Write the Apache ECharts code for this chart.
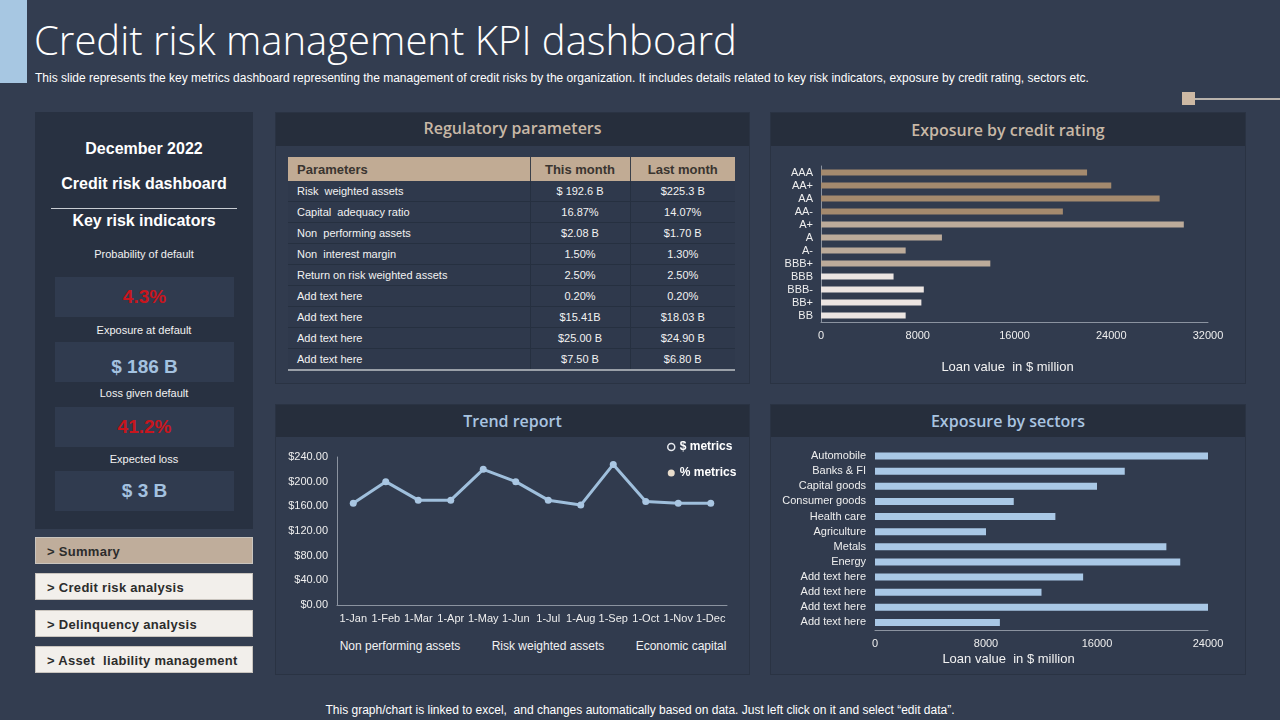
<!DOCTYPE html>
<html><head><meta charset="utf-8">
<script src="https://cdn.jsdelivr.net/npm/echarts@6/dist/echarts.min.js"></script>
<style>
body{margin:0;width:1280px;height:720px;background:#333d50;overflow:hidden;font-family:"Liberation Sans",Arial,sans-serif;color:#fff;position:relative}
.abs{position:absolute}
.panel{position:absolute;background:#313b4e;border:1px solid #2a3343;box-sizing:border-box}
.phead{position:absolute;left:0;top:0;right:0;background:#262e3c;text-align:center;font-family:"Open Sans",sans-serif;font-weight:600;font-size:16px}
.lbl{position:absolute;left:0;width:218px;text-align:center;font-size:11px;color:#f2f2f2}
.kbox{position:absolute;left:20px;width:179px;height:40px;background:#303b4f;text-align:center;line-height:40px;font-weight:bold;font-size:19px;box-sizing:border-box}
.btn{position:absolute;left:35px;width:218px;height:27px;box-sizing:border-box;font-weight:bold;font-size:13px;color:#2c2c2c;line-height:27px;padding-left:11px;letter-spacing:0.3px;border:1px solid #c9c4be;white-space:pre}
table{border-collapse:collapse;position:absolute;left:288px;top:157px;width:447px;font-size:11px}
th{background:#c1ab94;color:#3a3530;font-size:13px;height:24px;padding:0;border-left:1px solid #3a3f48}
td{height:20px;padding:0;border-bottom:1px solid #263040;border-left:1px solid #263040;color:#f2f2f2;text-align:center;background:#2f394c}
td.p{text-align:left;padding-left:9px;border-left:none;white-space:pre}
th.p{text-align:left;padding-left:9px;border-left:none}
tr:last-child td{border-bottom:2px solid #9aa0a8}
#chart{position:absolute;left:0;top:0;width:1280px;height:720px;z-index:5}
</style></head><body>
<div class="abs" style="left:0;top:0;width:27px;height:83px;background:#a7c7e2"></div>
<div class="abs" id="title" style="left:34px;top:12px;font-family:'Open Sans',sans-serif;font-weight:300;font-size:40px;white-space:nowrap;color:#fff">Credit risk management KPI dashboard</div>
<div class="abs" id="sub" style="left:35px;top:71px;font-size:12px;letter-spacing:0px;white-space:nowrap;color:#fff">This slide represents the key metrics dashboard representing the management of credit risks by the organization. It includes details related to key risk indicators, exposure by credit rating, sectors etc.</div>
<div class="abs" style="left:1182px;top:92px;width:13px;height:13px;background:#cdb9a4"></div>
<div class="abs" style="left:1195px;top:98px;width:85px;height:2px;background:#b9b3ac"></div>

<div class="abs" id="left" style="left:35px;top:112px;width:218px;height:417px;background:#283141"></div>
<div id="menu"></div>

<div class="panel" style="left:275px;top:112px;width:475px;height:272px"><div class="phead" style="height:33px;line-height:31px;color:#c8b8a6">Regulatory parameters</div></div>
<div class="panel" style="left:770px;top:112px;width:476px;height:272px"><div class="phead" style="height:33px;line-height:34px;color:#c8b8a6">Exposure by credit rating</div></div>
<div class="panel" style="left:275px;top:404px;width:475px;height:271px"><div class="phead" style="height:32px;line-height:32px;color:#a9c4e0">Trend report</div></div>
<div class="panel" style="left:770px;top:404px;width:476px;height:271px"><div class="phead" style="height:32px;line-height:32px;color:#a9c4e0">Exposure by sectors</div></div>
<div id="tbl"></div>
<div id="trendNotes"></div>
<div class="abs" style="left:0;top:703px;width:1280px;text-align:center;font-size:12px;letter-spacing:0px;color:#fff;white-space:pre">This graph/chart is linked to excel,  and changes automatically based on data. Just left click on it and select “edit data”.</div>
<div id="chart"></div>
<script>
// ---------- data ----------
var kpiLabels = ['Probability of default', 'Exposure at default', 'Loss given default', 'Expected loss'];
var kpiValues = ['4.3%', '$ 186 B', '41.2%', '$ 3 B'];
var menuItems = ['> Summary', '> Credit risk analysis', '> Delinquency analysis', '> Asset  liability management'];

var tableHeaders = ['Parameters', 'This month', 'Last month'];
var paramNames = ['Risk  weighted assets', 'Capital  adequacy ratio', 'Non  performing assets', 'Non  interest margin', 'Return on risk weighted assets', 'Add text here', 'Add text here', 'Add text here', 'Add text here'];
var thisMonth = ['$ 192.6 B', '16.87%', '$2.08 B', '1.50%', '2.50%', '0.20%', '$15.41B', '$25.00 B', '$7.50 B'];
var lastMonth = ['$225.3 B', '14.07%', '$1.70 B', '1.30%', '2.50%', '0.20%', '$18.03 B', '$24.90 B', '$6.80 B'];

var ratings = ['AAA', 'AA+', 'AA', 'AA-', 'A+', 'A', 'A-', 'BBB+', 'BBB', 'BBB-', 'BB+', 'BB'];
var ratingValues = [22000, 24000, 28000, 20000, 30000, 10000, 7000, 14000, 6000, 8500, 8300, 7000];
var ratingTicks = [0, 32000, 8000]; // min, max, interval

var months = ['1-Jan', '1-Feb', '1-Mar', '1-Apr', '1-May', '1-Jun', '1-Jul', '1-Aug', '1-Sep', '1-Oct', '1-Nov', '1-Dec'];
var trendValues = [165, 200, 170, 170, 220, 200, 170, 162, 228, 168, 165, 165];
var trendTicks = [0, 240, 40];
var trendNotes = ['Non performing assets', 'Risk weighted assets', 'Economic capital'];

var sectors = ['Automobile', 'Banks & FI', 'Capital goods', 'Consumer goods', 'Health care', 'Agriculture', 'Metals', 'Energy', 'Add text here', 'Add text here', 'Add text here', 'Add text here'];
var sectorValues = [24000, 18000, 16000, 10000, 13000, 8000, 21000, 22000, 15000, 12000, 24000, 9000];
var sectorTicks = [0, 24000, 8000];

// ---------- styles (kept apart from data) ----------
var ratingColors = ['#a48a6e','#a48a6e','#a48a6e','#a48a6e','#bcab9a','#bcab9a','#bcab9a','#bcab9a','#ece5e2','#ece5e2','#ece5e2','#ece5e2'];
var kpiColors = ['#c8151d', '#a4c2e0', '#c8151d', '#a4c2e0'];
var kpiLabelTops = [136, 212, 275, 341];
var kpiBoxTops = [165, 230, 295, 359];
var kpiTextShift = [0, 10, 0, 0];
var menuTops = [537, 573, 610, 646];

// ---------- left panel ----------
var left = document.getElementById('left');
var h = '';
h += '<div class="lbl" style="top:28px;font-size:16px;font-weight:bold;color:#fff">December 2022</div>';
h += '<div class="lbl" style="top:63px;font-size:16px;font-weight:bold;color:#fff">Credit risk dashboard</div>';
h += '<div class="abs" style="left:16px;top:96px;width:186px;height:1px;background:#c8ccd2"></div>';
h += '<div class="lbl" style="top:100px;font-size:16px;font-weight:bold;color:#fff">Key risk indicators</div>';
for (var i = 0; i < kpiLabels.length; i++) {
  h += '<div class="lbl" style="top:' + kpiLabelTops[i] + 'px">' + kpiLabels[i] + '</div>';
  h += '<div class="kbox" style="top:' + kpiBoxTops[i] + 'px;padding-top:' + kpiTextShift[i] + 'px;line-height:' + (40 - kpiTextShift[i]) + 'px;color:' + kpiColors[i] + '">' + kpiValues[i] + '</div>';
}
left.innerHTML = h;

var mh = '';
for (var i = 0; i < menuItems.length; i++) {
  var bg = i === 0 ? '#bfad9b' : '#f2efeb';
  mh += '<div class="btn" style="top:' + menuTops[i] + 'px;background:' + bg + '">' + menuItems[i] + '</div>';
}
document.getElementById('menu').innerHTML = mh;

// ---------- table ----------
var t = '<table><colgroup><col style="width:242px"><col style="width:100px"><col style="width:105px"></colgroup><tr>';
t += '<th class="p">' + tableHeaders[0] + '</th><th>' + tableHeaders[1] + '</th><th>' + tableHeaders[2] + '</th></tr>';
for (var i = 0; i < paramNames.length; i++) {
  t += '<tr><td class="p">' + paramNames[i] + '</td><td>' + thisMonth[i] + '</td><td>' + lastMonth[i] + '</td></tr>';
}
t += '</table>';
document.getElementById('tbl').innerHTML = t;

// trend notes
var noteCenters = [400, 548, 681];
var nh = '';
for (var i = 0; i < trendNotes.length; i++) {
  nh += '<div class="abs" style="left:' + (noteCenters[i] - 90) + 'px;top:639px;width:180px;text-align:center;font-size:12px;color:#f2f2f2">' + trendNotes[i] + '</div>';
}
document.getElementById('trendNotes').innerHTML = nh;

// ---------- charts ----------
var chart = echarts.init(document.getElementById('chart'), null, {renderer: 'canvas'});
var axisLineColor = '#8b93a0';
var labelStyle = {color: '#eeeeee', fontSize: 11, fontFamily: 'Liberation Sans, Arial'};
var nameStyle1 = {color: '#f2f2f2', fontSize: 13, fontFamily: 'Liberation Sans, Arial', padding: [0, 14, 0, 0]};
var nameStyle2 = {color: '#f2f2f2', fontSize: 13, fontFamily: 'Liberation Sans, Arial', padding: [0, 66, 0, 0]};
var plain = function (v) { return String(v); };
chart.setOption({
  animation: false,
  backgroundColor: 'transparent',
  legend: {
    data: [
      {name: '$ metrics', itemStyle: {color: '#2f394c', borderColor: '#e6e9ee', borderWidth: 1.5}},
      {name: '% metrics', itemStyle: {color: '#e8dccb'}}
    ],
    orient: 'vertical', left: 667, top: 441, padding: 0, itemWidth: 7, itemHeight: 7, itemGap: 14, icon: 'circle',
    textStyle: {color: '#ffffff', fontSize: 12, fontWeight: 'bold', fontFamily: 'Liberation Sans, Arial'}
  },
  grid: [
    {left: 821, top: 166, width: 387, height: 156},
    {left: 337, top: 457, width: 390, height: 148},
    {left: 875, top: 448.5, width: 333, height: 181.5}
  ],
  xAxis: [
    {gridIndex: 0, type: 'value', min: ratingTicks[0], max: ratingTicks[1], interval: ratingTicks[2],
      splitLine: {show: false}, axisTick: {show: false}, axisLine: {show: true, lineStyle: {color: axisLineColor}},
      axisLabel: Object.assign({margin: 8, formatter: plain}, labelStyle),
      name: 'Loan value  in $ million', nameLocation: 'middle', nameGap: 39, nameTextStyle: nameStyle1},
    {gridIndex: 1, type: 'category', data: months, boundaryGap: true,
      axisTick: {show: false}, axisLine: {lineStyle: {color: axisLineColor}},
      axisLabel: Object.assign({margin: 8, interval: 0}, labelStyle)},
    {gridIndex: 2, type: 'value', min: sectorTicks[0], max: sectorTicks[1], interval: sectorTicks[2],
      splitLine: {show: false}, axisTick: {show: false}, axisLine: {show: true, lineStyle: {color: axisLineColor}},
      axisLabel: Object.assign({margin: 8, formatter: plain}, labelStyle),
      name: 'Loan value  in $ million', nameLocation: 'middle', nameGap: 23, nameTextStyle: nameStyle2}
  ],
  yAxis: [
    {gridIndex: 0, type: 'category', data: ratings, inverse: true,
      axisTick: {show: false}, axisLine: {show: true, lineStyle: {color: axisLineColor}},
      axisLabel: Object.assign({margin: 8, interval: 0}, labelStyle)},
    {gridIndex: 1, type: 'value', min: trendTicks[0], max: trendTicks[1], interval: trendTicks[2],
      splitLine: {show: false}, axisTick: {show: false}, axisLine: {show: true, lineStyle: {color: axisLineColor}},
      axisLabel: Object.assign({margin: 9, formatter: function (v) { return '$' + v.toFixed(2); }}, labelStyle)},
    {gridIndex: 2, type: 'category', data: sectors, inverse: true,
      axisTick: {show: false}, axisLine: {show: false},
      axisLabel: Object.assign({margin: 9, interval: 0}, labelStyle)}
  ],
  series: [
    {type: 'bar', xAxisIndex: 0, yAxisIndex: 0, barWidth: 6,
      data: ratingValues.map(function (v, i) { return {value: v, itemStyle: {color: ratingColors[i]}}; })},
    {type: 'line', name: '$ metrics', xAxisIndex: 1, yAxisIndex: 1, data: trendValues,
      symbol: 'circle', symbolSize: 7, lineStyle: {width: 3, color: '#9fbfdc'}, itemStyle: {color: '#a9c6e2'}},
    {type: 'line', name: '% metrics', xAxisIndex: 1, yAxisIndex: 1, data: [], itemStyle: {color: '#e8dccb'}},
    {type: 'bar', xAxisIndex: 2, yAxisIndex: 2, barWidth: 7, data: sectorValues, itemStyle: {color: '#a9c8e6'}}
  ]
});
</script>
</body></html>
